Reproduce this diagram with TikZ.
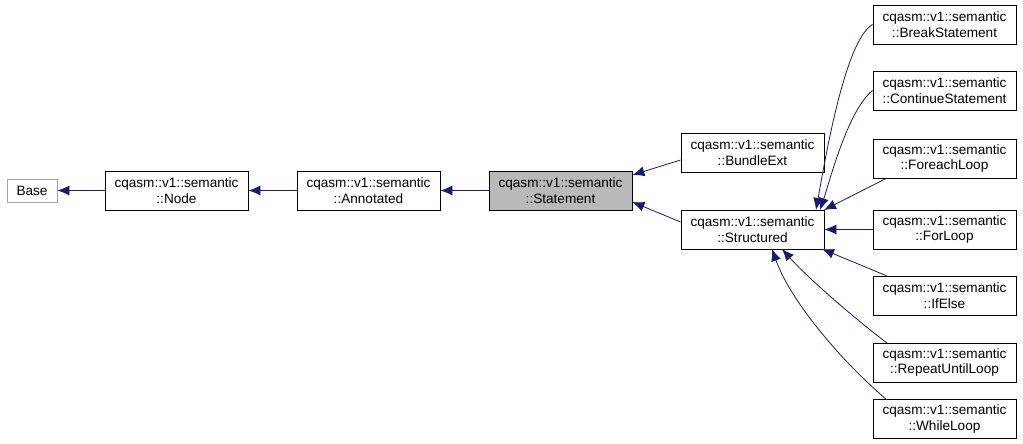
\documentclass[tikz,border=0pt]{standalone}
\usepackage{fontspec}
\setmainfont{Liberation Sans}
\usetikzlibrary{arrows.meta}
\definecolor{navy}{RGB}{25,25,112}
\begin{document}
\begin{tikzpicture}[x=1pt,y=-1pt,
 box/.style={draw,thick,minimum width=143pt,minimum height=39pt,inner sep=0pt,align=center,font=\fontsize{13.6}{15.5}\selectfont},
 arr/.style={navy,thick,-{Latex[length=12pt,width=10pt]}}]
\useasboundingbox (0,0) rectangle (1023,444);
\node[draw=gray!70,thick,minimum width=50pt,minimum height=23pt,inner sep=0pt,font=\fontsize{13.6}{15.5}\selectfont] (base) at (32,190.5) {Base};
\node[box] (node) at (176.5,190.5) {cqasm::v1::semantic\\::Node};
\node[box] (ann) at (368.5,190.5) {cqasm::v1::semantic\\::Annotated};
\node[box,fill=gray!55] (stm) at (560.5,190.5) {cqasm::v1::semantic\\::Statement};
\node[box] (bun) at (752.5,152.5) {cqasm::v1::semantic\\::BundleExt};
\node[box] (str) at (752.5,229.5) {cqasm::v1::semantic\\::Structured};
\node[box] (brk) at (944.5,24.5) {cqasm::v1::semantic\\::BreakStatement};
\node[box] (con) at (944.5,90.5) {cqasm::v1::semantic\\::ContinueStatement};
\node[box] (for) at (944.5,158.5) {cqasm::v1::semantic\\::ForeachLoop};
\node[box] (fl) at (944.5,229.5) {cqasm::v1::semantic\\::ForLoop};
\node[box] (ife) at (944.5,295.5) {cqasm::v1::semantic\\::IfElse};
\node[box] (rep) at (944.5,362.5) {cqasm::v1::semantic\\::RepeatUntilLoop};
\node[box] (whl) at (944.5,419) {cqasm::v1::semantic\\::WhileLoop};
\draw[arr] (node.west) -- (base.east);
\draw[arr] (ann.west) -- (node.east);
\draw[arr] (stm.west) -- (ann.east);
\draw[arr] (bun.west |- 0,160) -- (stm.east |- 0,175);
\draw[arr] (str.west |- 0,222) -- (stm.east |- 0,202);
\draw[arr] (brk.west) .. controls (845,40) and (825,160) .. (816,210);
\draw[arr] (con.west) .. controls (848,110) and (830,180) .. (820,210);
\draw[arr] (887,178) -- (824,210);
\draw[arr] (fl.west) -- (str.east);
\draw[arr] (887,276) -- (822,249);
\draw[arr] (887,343) .. controls (850,315) and (805,275) .. (782,249);
\draw[arr] (887,400) .. controls (840,360) and (790,300) .. (772,249);
\end{tikzpicture}
\end{document}
